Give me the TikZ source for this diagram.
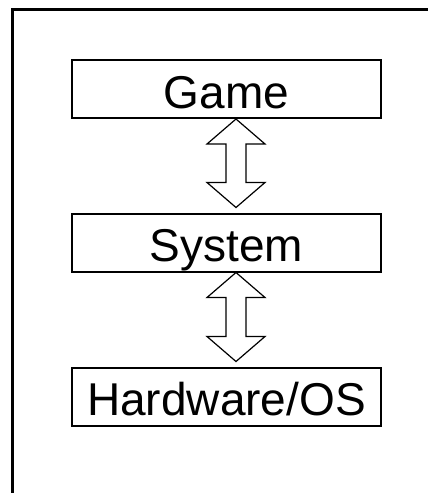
\documentclass[tikz,border=0pt]{standalone}
\usepackage{fontspec}
\setmainfont{Liberation Sans}
\usetikzlibrary{calc}
\tikzset{
  layer/.style={draw, line width=2pt, rectangle, fill=white,
    minimum width=309pt, minimum height=58pt, inner sep=0pt,
    text height=48pt, text depth=10pt,
    font=\fontsize{46}{50}\selectfont},
  arrowline/.style={draw, fill=white, line width=1.2pt, line join=miter},
  frameline/.style={line width=3pt}
}
% hollow double-headed arrow between two points on a vertical line
\newcommand{\twoway}[2]{%
  \path[arrowline] let \p1=(#1), \p2=(#2) in
    (\x1,\y1) -- (\x1-29pt,\y1-25pt) -- (\x1-10pt,\y1-25pt)
    -- (\x1-10pt,\y2+25pt) -- (\x1-29pt,\y2+25pt) -- (\x1,\y2)
    -- (\x1+29pt,\y2+25pt) -- (\x1+10pt,\y2+25pt)
    -- (\x1+10pt,\y1-25pt) -- (\x1+29pt,\y1-25pt) -- cycle;}
\begin{document}
\begin{tikzpicture}[x=1pt,y=1pt]
  \useasboundingbox (0,0) rectangle (428,-493);
  \fill[white] (0,0) rectangle (428,-493);
  % open frame: top and left edges
  \draw[frameline] (12,-520) -- (12,-9) -- (460,-9);

  \node[layer] (game)     at (226.5,-89)    {Game};
  \node[layer] (system)   at (226.5,-242.5) {System};
  \node[layer] (hardware) at (226.5,-396.5) {Hardware/OS};

  \coordinate (a1top) at ($(game.south)+(9.5,0)$);
  \coordinate (a1bot) at ($(system.north)+(9.5,5)$);
  \coordinate (a2top) at ($(system.south)+(9.5,0)$);
  \coordinate (a2bot) at ($(hardware.north)+(9.5,5)$);
  \twoway{a1top}{a1bot}
  \twoway{a2top}{a2bot}
\end{tikzpicture}
\end{document}
